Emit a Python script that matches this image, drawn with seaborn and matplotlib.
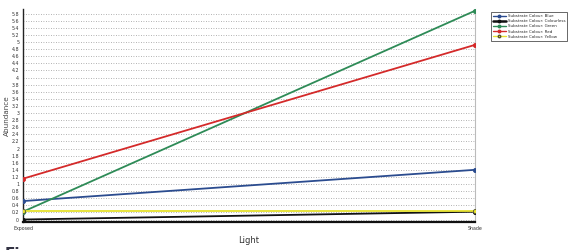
import matplotlib
matplotlib.use("Agg")
import matplotlib.pyplot as plt
import seaborn as sns
import pandas as pd
import numpy as np

categories = ["Exposed", "Shade"]
series_names = [
    "Substrate Colour: Blue",
    "Substrate Colour: Colourless",
    "Substrate Colour: Green",
    "Substrate Colour: Red",
    "Substrate Colour: Yellow",
]
blue = [0.52, 1.40]
colourless = [0.0, 0.22]
green = [0.22, 5.88]
red = [1.15, 4.92]
yellow = [0.25, 0.25]
y_ticks = [round(0.2 * i, 1) for i in range(30)]

values = [blue, colourless, green, red, yellow]
colors = ["#2b4c8f", "#111111", "#2e8b57", "#d42a2a", "#e6e22e"]

rows = []
for name, vals in zip(series_names, values):
    for i, (cat, v) in enumerate(zip(categories, vals)):
        rows.append({"pos": i, "Light": cat, "Abundance": v, "series": name})
df = pd.DataFrame(rows)

sns.set_theme(style="white")
plt.rcParams["font.family"] = ["DejaVu Sans"]

fig = plt.figure(figsize=(5.81, 2.5), dpi=100)
ax = fig.add_axes([23 / 581, 1 - 222 / 250, (475 - 23) / 581, (222 - 9) / 250])

sns.lineplot(data=df, x="pos", y="Abundance", hue="series", hue_order=series_names,
             palette=colors, ax=ax, linewidth=1.3, marker="o", markersize=3,
             markeredgewidth=0.6, legend=False, zorder=3)
for line, c in zip(ax.get_lines(), colors):
    line.set_markeredgecolor("#555533" if c == "#e6e22e" else c)

ax.set_xlim(0, 1)
ax.set_ylim(-0.07, 5.93)
ax.set_xticks([0, 1])
ax.set_xticklabels(categories)
ax.set_yticks(y_ticks)
ax.set_yticklabels([("%g" % t) for t in y_ticks])
ax.tick_params(axis="both", labelsize=3.4, length=1.5, pad=1.2, colors="#333333")
ax.set_xlabel("Light", fontsize=6, color="#333333", labelpad=4)
ax.set_ylabel("Abundance", fontsize=5.2, color="#444444", labelpad=1)

ax.grid(axis="y", linestyle=(0, (1, 2)), color="#999999", linewidth=0.6)
ax.grid(axis="x", visible=False)
ax.spines["left"].set_color("#222222"); ax.spines["left"].set_linewidth(1.0)
ax.spines["bottom"].set_color("#111111"); ax.spines["bottom"].set_linewidth(1.6)
ax.spines["right"].set_color("#bbbbbb"); ax.spines["right"].set_linewidth(0.8)
ax.spines["top"].set_visible(False)

handles = [plt.Line2D([], [], color=c, lw=1.0 if c != "#111111" else 1.8, marker="o",
                      markersize=1.8, markeredgecolor=("#555533" if c == "#e6e22e" else c))
           for c in colors]
leg = fig.legend(handles, series_names, loc="upper left",
                 bbox_to_anchor=(491 / 581, 1 - 12 / 250), fontsize=2.9,
                 frameon=True, fancybox=False, edgecolor="#222222",
                 handlelength=3.2, labelspacing=0.3, borderpad=0.5, handletextpad=0.4,
                 borderaxespad=0.0)
leg.get_frame().set_linewidth(0.6)

fig.text(5 / 581, 1 - 246.5 / 250, "Fig", fontsize=11, fontweight="bold", color="#333344",
         ha="left", va="top")

fig.savefig("out.png", dpi=100)
